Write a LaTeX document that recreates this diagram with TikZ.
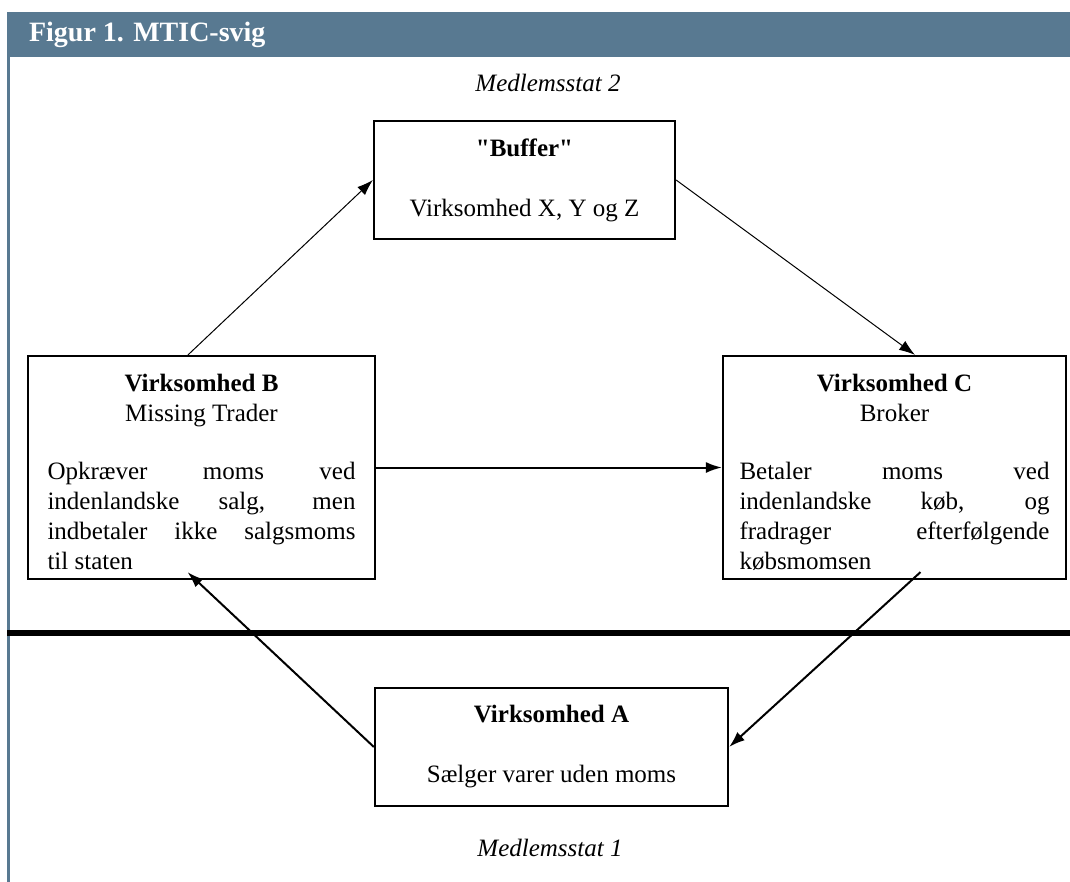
\documentclass[tikz,border=0pt]{standalone}
\usepackage{fontspec}
\setmainfont{Liberation Serif}[Ligatures=TeXOff]
\usetikzlibrary{arrows.meta}
\setlength{\parindent}{0pt}
\definecolor{headblue}{RGB}{88,121,145}
\tikzstyle{firm}=[rectangle,draw,line width=1.1pt,inner sep=0pt,align=center,font=\fontsize{12.5}{15}\selectfont]
\tikzstyle{wide}=[firm,align=justify,minimum height=111.5pt]
\tikzstyle{edge} = [draw,line width=0.5pt,-{Latex[length=8pt,width=5.5pt]}]
\tikzstyle{heavy} = [edge,line width=1pt]
\tikzstyle{state} = [font=\fontsize{12.5}{15}\selectfont\itshape]

\begin{document}
\begin{tikzpicture}[x=0.5pt,y=-0.5pt]
        \useasboundingbox (0,0) rectangle (1070,882);
        % frame and title bar
        \fill[headblue] (7,12) rectangle (1070,57);
        \draw[headblue,line width=1.5pt] (8.5,12) -- (8.5,882);
        \node[anchor=west,text=white,font=\fontsize{14}{16}\selectfont\bfseries] (title) at (22,35) {Figur 1. MTIC-svig};
        \draw[line width=3pt] (7,633) -- (1070,633);
        \node[state] (ms2) at (548,83) {Medlemsstat 2};
        \node[state] (ms1) at (550,848) {Medlemsstat 1};
        % the firms
        \node[firm,minimum width=150.5pt,minimum height=59pt] (buffer) at (524.5,180) {\textbf{"Buffer"}\\[15pt]Virksomhed X, Y og Z};
        \node[wide,text width=154pt,inner xsep=9.75pt] (B) at (201.5,467.5) {{\centering\rule{0pt}{13.5pt}\textbf{Virksomhed B}\par Missing Trader\par}\vspace{14pt}Opkræver moms ved\linebreak indenlandske salg, men\linebreak indbetaler ikke salgsmoms\linebreak til staten};
        \node[wide,text width=155pt,inner xsep=8.25pt] (C) at (894.5,467.5) {{\centering\rule{0pt}{13.5pt}\textbf{Virksomhed C}\par Broker\par}\vspace{14pt}Betaler moms ved\linebreak indenlandske køb, og\linebreak fradrager efterfølgende\linebreak købsmomsen};
        \node[firm,minimum width=176.5pt,minimum height=59pt] (A) at (551.5,747) {\textbf{Virksomhed A}\\[15pt]Sælger varer uden moms};
        % flow of goods
        \path[edge] ([xshift=-6.75pt]B.north) -- (buffer.west);
        \path[edge] (buffer.east) -- ([xshift=10.25pt]C.north);
        \path[heavy] (B.east) -- (C.west);
        \path[heavy] ([xshift=13pt,yshift=4pt]C.south) -- (A.east);
        \path[heavy] (A.west) -- ([xshift=-7pt,yshift=4pt]B.south);
    \end{tikzpicture}
\end{document}
